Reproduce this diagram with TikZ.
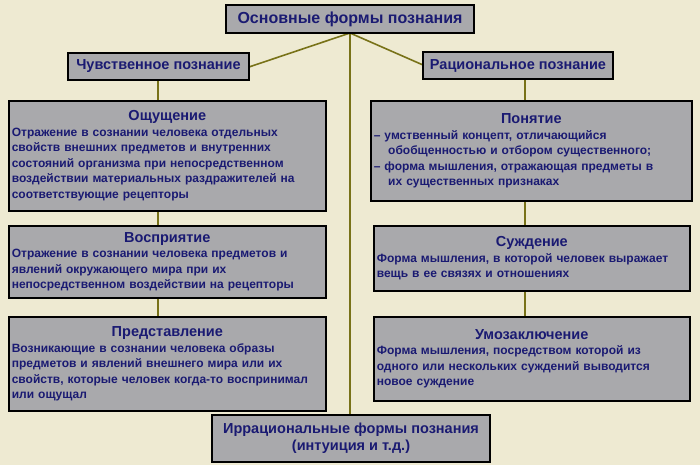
\documentclass[tikz,border=0pt]{standalone}
\usepackage{fontspec}
\setmainfont{Liberation Sans}
\begin{document}
\begin{tikzpicture}[x=1pt,y=-1pt,
  bx/.style={draw=black,line width=1.6pt,fill=boxgray,text=navy,font=\bfseries\fontsize{12}{15.5}\selectfont,inner sep=3pt,align=left,anchor=north west},
  hd/.style={draw=black,line width=1.6pt,fill=boxgray,text=navy,font=\bfseries\fontsize{14.5}{16}\selectfont,inner sep=2pt,align=center},
  ln/.style={draw=olive!80!black,line width=1.6pt}]
\definecolor{boxgray}{HTML}{A9A9AC}
\definecolor{navy}{HTML}{1A1A72}
\definecolor{bg}{HTML}{EEEAD2}
\fill[bg] (0,0) rectangle (700,465);
\useasboundingbox (0,0) rectangle (700,465);
\newcommand{\hdr}[1]{\makebox[\linewidth]{\fontsize{14.5}{16}\selectfont #1}}
% connectors first
\coordinate (c) at (350,33);
\draw[ln] (c) -- (350,415);
\draw[ln] (c) -- (249,67);
\draw[ln] (c) -- (423,65);
\draw[ln] (158,80) -- (158,100);
\draw[ln] (158,210) -- (158,225);
\draw[ln] (158,297) -- (158,316);
\draw[ln] (525,79) -- (525,100);
\draw[ln] (525,200) -- (525,225);
\draw[ln] (525,290) -- (525,316);
% boxes
\node[hd,minimum width=248,minimum height=28,font=\bfseries\fontsize{16}{18}\selectfont] (t) at (350,19) {Основные формы познания};
\node[hd,minimum width=181,minimum height=27] (l) at (158.5,66.5) {Чувственное познание};
\node[hd,minimum width=190,minimum height=27] (r) at (518,65.5) {Рациональное познание};
\node[bx,text width=311,minimum height=110] (a1) at (8,100) {\hdr{Ощущение}\\Отражение в сознании человека отдельных\\свойств внешних предметов и внутренних\\состояний организма при непосредственном\\воздействии материальных раздражителей на\\соответствующие рецепторы};
\node[bx,text width=311,minimum height=72] (a2) at (8,225) {\hdr{Восприятие}\\Отражение в сознании человека предметов и\\явлений окружающего мира при их\\непосредственном воздействии на рецепторы};
\node[bx,text width=311,minimum height=94] (a3) at (8,316) {\hdr{Представление}\\Возникающие в сознании человека образы\\предметов и явлений внешнего мира или их\\свойств, которые человек когда-то воспринимал\\или ощущал};
\node[bx,text width=315,minimum height=100] (b1) at (370,100) {\hdr{Понятие}\\– умственный концепт, отличающийся\\\hspace*{1.2em}обобщенностью и отбором существенного;\\– форма мышления, отражающая предметы в\\\hspace*{1.2em}их существенных признаках};
\node[bx,text width=310,minimum height=65] (b2) at (373,225) {\hdr{Суждение}\\Форма мышления, в которой человек выражает\\вещь в ее связях и отношениях};
\node[bx,text width=310,minimum height=84] (b3) at (373,316) {\hdr{Умозаключение}\\Форма мышления, посредством которой из\\одного или нескольких суждений выводится\\новое суждение};
\node[hd,minimum width=278,minimum height=47,font=\bfseries\fontsize{14.5}{17}\selectfont] (irr) at (351,438.5) {Иррациональные формы познания\\(интуиция и т.д.)};
\end{tikzpicture}
\end{document}
